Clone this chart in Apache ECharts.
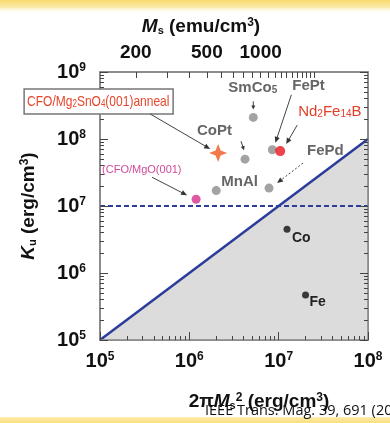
<!DOCTYPE html>
<html><head><meta charset="utf-8">
<script src="https://cdn.jsdelivr.net/npm/echarts@6/dist/echarts.min.js"></script>
<style>html,body{margin:0;padding:0;background:#fff;}#c{width:390px;height:423px;}</style>
</head><body><div id="c"></div>
<script>
// ---- data ----
const xDecades = [1e5, 1e6, 1e7, 1e8];            // 2πMs² ticks
const yDecades = [1e5, 1e6, 1e7, 1e8, 1e9];       // Ku ticks
const msTicks = [200,300,400,500,600,700,800,900,1000,1100,1200,1300,1400,1500,1600,1700,1800,1900,2000];
const msLabels = [200, 500, 1000];
const grayNames = ['SmCo5', 'FePt', 'CoPt', 'FePd', 'MnAl'];
const grayDemag = [5.2e6, 8.5e6, 4.2e6, 7.8e6, 2.0e6];
const grayKu    = [2.1e8, 6.9e7, 5.0e7, 1.85e7, 1.7e7];
const ndDemag = [1.04e7], ndKu = [6.6e7];
const blackNames = ['Co', 'Fe'];
const blackDemag = [1.24e7, 2.0e7];
const blackKu    = [4.5e6, 4.7e5];
const annealDemag = [2.1e6], annealKu = [6.2e7];
const mgoDemag = [1.19e6], mgoKu = [1.26e7];
const boundaryX = [1e5, 1e8];   // Ku = 2πMs²
const boundaryY = [1e5, 1e8];
const thresholdKu = 1e7;

const minor = (decs) => { const r = []; for (let i = 0; i < decs.length - 1; i++) for (let k = 2; k <= 9; k++) r.push(decs[i] * k); return r; };
const pairs = (xs, ys) => xs.map((x, i) => [x, ys[i]]);

const FONT = 'Liberation Sans, Arial, sans-serif';
const AX = '#858585';
const TK = '#444';
const tickRich = {
  b: { fontSize: 20, fontWeight: 'bold', fontFamily: FONT, color: '#111' },
  s: { fontSize: 12, fontWeight: 'bold', fontFamily: FONT, color: '#111', verticalAlign: 'top' }
};
const decFmt = v => '{b|10}{s|' + Math.round(Math.log10(v)) + '}';
const nameRich = {
  t: { fontSize: 19, fontWeight: 'bold', fontFamily: FONT, color: '#111' },
  i: { fontSize: 19, fontWeight: 'bold', fontStyle: 'italic', fontFamily: FONT, color: '#111' },
  sub: { fontSize: 11, fontWeight: 'bold', fontFamily: FONT, color: '#111', verticalAlign: 'bottom' },
  sup: { fontSize: 12, fontWeight: 'bold', fontFamily: FONT, color: '#111', verticalAlign: 'top' }
};

const chart = echarts.init(document.getElementById('c'), null, { renderer: 'canvas' });

const xBase = { type: 'log', min: 1e5, max: 1e8, gridIndex: 0, splitLine: { show: false }, minorTick: { show: false } };
const yBase = { type: 'log', min: 1e5, max: 1e9, gridIndex: 0, splitLine: { show: false }, minorTick: { show: false } };
const line = () => ({ show: true, onZero: false, lineStyle: { color: AX, width: 1.5 } });
const noLine = () => ({ show: false, onZero: false });
const ticks = (len, vals) => ({ show: true, inside: true, length: len, lineStyle: { color: TK, width: 1 }, customValues: vals });

const option = {
  backgroundColor: '#fff',
  animation: false,
  grid: { left: 100, right: 22, top: 72, bottom: 83, show: true, borderColor: AX, borderWidth: 1.5, backgroundColor: 'transparent' },
  graphic: [],
  xAxis: [
    Object.assign({}, xBase, {
      position: 'bottom', z: 10,
      axisLine: line(),
      axisTick: ticks(8, xDecades),
      axisLabel: { show: true, customValues: xDecades, formatter: decFmt, rich: tickRich, margin: 11 },
      name: '{t|2π}{i|M}{sub|s}{sup|2}{t| (erg/cm}{sup|3}{t|)}',
      nameLocation: 'middle', nameGap: 52,
      nameTextStyle: { rich: nameRich, padding: [0, 0, 0, 50] }
    }),
    Object.assign({}, xBase, {
      position: 'bottom', z: 10,
      axisLine: noLine(),
      axisTick: ticks(4, minor(xDecades)),
      axisLabel: { show: false }
    }),
    Object.assign({}, xBase, {
      position: 'top', z: 10,
      axisLine: line(),
      axisTick: ticks(6, msTicks.map(m => 2 * Math.PI * m * m)),
      axisLabel: {
        show: true,
        customValues: msLabels.map(m => 2 * Math.PI * m * m),
        formatter: v => String(Math.round(Math.sqrt(v / (2 * Math.PI)))),
        fontSize: 19, fontWeight: 'bold', fontFamily: FONT, color: '#111', margin: 10
      },
      name: '{i|M}{sub|s}{t| (emu/cm}{sup|3}{t|)}',
      nameLocation: 'middle', nameGap: 36,
      nameTextStyle: { rich: { t: { fontSize: 19, fontWeight: 'bold', fontFamily: FONT, color: '#111' },
                              i: { fontSize: 19, fontWeight: 'bold', fontStyle: 'italic', fontFamily: FONT, color: '#111' },
                              sub: { fontSize: 11, fontWeight: 'bold', fontFamily: FONT, color: '#111', verticalAlign: 'bottom' },
                              sup: { fontSize: 12, fontWeight: 'bold', fontFamily: FONT, color: '#111', verticalAlign: 'top' } },
                       padding: [0, 66, 0, 0] }
    })
  ],
  yAxis: [
    Object.assign({}, yBase, {
      position: 'left', z: 10,
      axisLine: line(),
      axisTick: ticks(8, yDecades),
      axisLabel: { show: true, customValues: yDecades, formatter: decFmt, rich: tickRich, margin: 14 },
      name: '{i|K}{sub|u}{t| (erg/cm}{sup|3}{t|)}',
      nameLocation: 'middle', nameGap: 62, nameRotate: 90,
      nameTextStyle: { rich: nameRich }
    }),
    Object.assign({}, yBase, {
      position: 'left', z: 10,
      axisLine: noLine(),
      axisTick: ticks(4, minor(yDecades)),
      axisLabel: { show: false }
    }),
    Object.assign({}, yBase, {
      position: 'right', z: 10,
      axisLine: line(),
      axisTick: ticks(8, yDecades),
      axisLabel: { show: false }
    }),
    Object.assign({}, yBase, {
      position: 'right', z: 10,
      axisLine: noLine(),
      axisTick: ticks(4, minor(yDecades)),
      axisLabel: { show: false }
    })
  ],
  series: [
    { type: 'line', data: pairs(boundaryX, boundaryY), symbol: 'none', z: 2,
      lineStyle: { color: '#2a3c9c', width: 2.5 },
      areaStyle: { color: '#dcdcdc', opacity: 1, origin: 'start' } },
    { type: 'line', data: pairs([boundaryX[0], boundaryX[1]], [thresholdKu, thresholdKu]), symbol: 'none', z: 3,
      lineStyle: { color: '#2a3c9c', width: 2, type: [5, 3] } },
    { type: 'scatter', name: 'gray', data: pairs(grayDemag, grayKu), symbolSize: 9, z: 5,
      itemStyle: { color: '#8c8c8c' } },
    { type: 'scatter', name: 'nd', data: pairs(ndDemag, ndKu), symbolSize: 10, z: 6,
      itemStyle: { color: '#e8141c' } },
    { type: 'scatter', name: 'black', data: pairs(blackDemag, blackKu), symbolSize: 7, z: 5,
      itemStyle: { color: '#111' } },
    { type: 'scatter', name: 'mgo', data: pairs(mgoDemag, mgoKu), symbolSize: 9, z: 5,
      itemStyle: { color: '#d4318c' } },
    { type: 'scatter', name: 'anneal', data: pairs(annealDemag, annealKu), symbolSize: 18, z: 7,
      symbol: 'path://M0,-10 L2.8,-2.8 L10,0 L2.8,2.8 L0,10 L-2.8,2.8 L-10,0 L-2.8,-2.8 Z',
      itemStyle: { color: '#f0561e' } }
  ]
};
chart.setOption(option);

// ---- annotations, positioned relative to points converted by the chart's scales ----
const P = (x, y) => chart.convertToPixel({ xAxisIndex: 0, yAxisIndex: 0 }, [x, y]);
const g = [];
function arrow(p, a, b, opts) {
  opts = opts || {};
  const x1 = p[0] + a[0], y1 = p[1] + a[1], x2 = p[0] + b[0], y2 = p[1] + b[1];
  const ang = Math.atan2(y2 - y1, x2 - x1), c = Math.cos(ang), s = Math.sin(ang);
  const L = opts.L || 6, W = opts.W || 2.6;
  g.push({ type: 'line', z: 20, shape: { x1, y1, x2: x2 - L * c * 0.7, y2: y2 - L * s * 0.7 },
           style: { stroke: '#444', lineWidth: 1, lineDash: opts.dash ? [2, 2] : null } });
  g.push({ type: 'polygon', z: 20, shape: { points: [[x2, y2], [x2 - L * c + W * s, y2 - L * s - W * c], [x2 - L * c - W * s, y2 - L * s + W * c]] },
           style: { fill: '#333' } });
}
function label(p, off, text, color, size, weight, rich) {
  g.push({ type: 'text', z: 21, x: p[0] + off[0], y: p[1] + off[1],
    style: { text, fill: color, fontSize: size, fontWeight: weight || 'bold', fontFamily: FONT,
             verticalAlign: 'middle', align: 'left', rich: rich } });
}
const subRich = (color, size, weight) => ({
  n: { fontSize: size, fontWeight: weight || 'bold', fontFamily: FONT, fill: color, color: color },
  d: { fontSize: Math.round(size * 0.65), fontWeight: weight || 'bold', fontFamily: FONT, fill: color, color: color, verticalAlign: 'bottom' }
});

const pSm = P(grayDemag[0], grayKu[0]);
label(pSm, [-25, -30], '{n|SmCo}{d|5}', '#666', 15, 'bold', subRich('#666', 15));
arrow(pSm, [0, -16], [0, -8], { L: 4, W: 2 });

const pFePt = P(grayDemag[1], grayKu[1]);
label(pFePt, [20, -64], 'FePt', '#666', 15);
arrow(pFePt, [19, -55], [3, -7]);

const pNd = P(ndDemag[0], ndKu[0]);
label(pNd, [18, -39], '{n|Nd}{d|2}{n|Fe}{d|14}{n|B}', '#e0402a', 15, 'normal', subRich('#e0402a', 15, 'normal'));
arrow(pNd, [17, -26], [6, -7]);

const pCoPt = P(grayDemag[2], grayKu[2]);
label(pCoPt, [-48, -28], 'CoPt', '#666', 15);
arrow(pCoPt, [-4, -18], [-1, -9], { L: 4, W: 2 });

const pFePd = P(grayDemag[3], grayKu[3]);
label(pFePd, [38, -37], 'FePd', '#666', 15);
arrow(pFePd, [34, -25], [8, -5], { dash: true });

const pMn = P(grayDemag[4], grayKu[4]);
label(pMn, [5, -9], 'MnAl', '#666', 15);

const pCo = P(blackDemag[0], blackKu[0]);
label(pCo, [5, 9], 'Co', '#222', 14);
const pFe = P(blackDemag[1], blackKu[1]);
label(pFe, [4, 7], 'Fe', '#222', 14);

const pMgo = P(mgoDemag[0], mgoKu[0]);
label(pMgo, [-94, -29], '(CFO/MgO(001)', '#d24a9a', 11, 'normal');
arrow(pMgo, [-44, -22], [-9, -4]);

const pAn = P(annealDemag[0], annealKu[0]);
g.push({ type: 'rect', z: 19, shape: { x: pAn[0] - 194, y: pAn[1] - 64, width: 149, height: 25 },
         style: { fill: '#fff', stroke: '#777', lineWidth: 1.5 } });
g.push({ type: 'text', z: 21, x: pAn[0] - 191, y: pAn[1] - 51.5, scaleX: 0.8,
  style: { text: '{n|CFO/Mg}{d|2}{n|SnO}{d|4}{n|(001)anneal}', fontSize: 15, fontFamily: FONT,
           verticalAlign: 'middle', align: 'left',
           rich: { n: { fontSize: 15, fontFamily: FONT, color: '#e5462c', fill: '#e5462c' },
                   d: { fontSize: 10, fontFamily: FONT, color: '#e5462c', fill: '#e5462c', verticalAlign: 'bottom' } } } });
arrow(pAn, [-68, -39], [-8, -4]);

// page decoration: yellow slide bands and citation
g.push({ type: 'rect', z: 30, shape: { x: 0, y: 0, width: 390, height: 14 },
  style: { fill: new echarts.graphic.LinearGradient(0, 0, 0, 1, [
    { offset: 0, color: '#f8dc6e' }, { offset: 0.5, color: '#fae9a6' }, { offset: 1, color: 'rgba(255,255,255,0)' }]) } });
g.push({ type: 'rect', z: 30, shape: { x: 0, y: 417, width: 390, height: 6 },
  style: { fill: new echarts.graphic.LinearGradient(0, 0, 0, 1, [
    { offset: 0, color: '#fcecb0' }, { offset: 1, color: '#f9df7c' }]) } });
g.push({ type: 'text', z: 31, x: 205, y: 411,
  style: { text: 'IEEE Trans. Mag. 39, 691 (2003)', fill: '#111', fontSize: 14.5, fontFamily: 'Open Sans, sans-serif', verticalAlign: 'middle' } });

chart.setOption({ graphic: g });
</script>
</body></html>
